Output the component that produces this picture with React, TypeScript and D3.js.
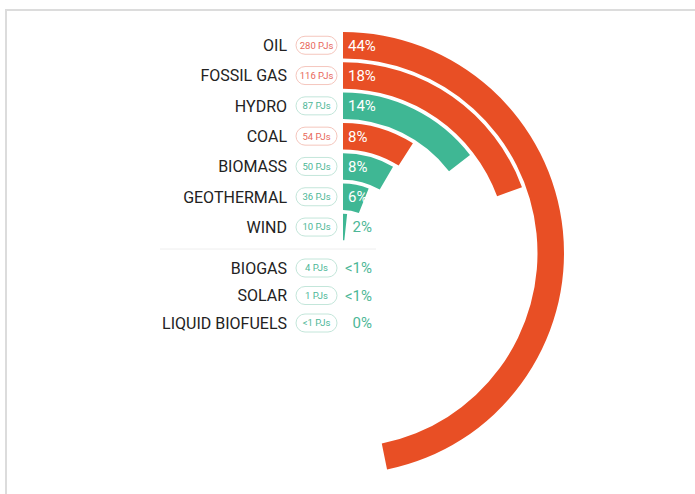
import React from "react";
import * as d3 from "d3";

const categories = ["OIL", "FOSSIL GAS", "HYDRO", "COAL", "BIOMASS", "GEOTHERMAL", "WIND"];
const values = [280, 116, 87, 54, 50, 36, 10];
const valueLabels = ["280 PJs", "116 PJs", "87 PJs", "54 PJs", "50 PJs", "36 PJs", "10 PJs"];
const percentLabels = ["44%", "18%", "14%", "8%", "8%", "6%", "2%"];
const fossil = [true, true, false, true, false, false, false];

const minorCategories = ["BIOGAS", "SOLAR", "LIQUID BIOFUELS"];
const minorValueLabels = ["4 PJs", "1 PJs", "<1 PJs"];
const minorPercentLabels = ["<1%", "<1%", "0%"];

const RED = "#e84f25";
const GREEN = "#3fb794";
const RED_TEXT = "#e8675a";
const GREEN_TEXT = "#4db797";
const RED_BORDER = "#f5c6bd";
const GREEN_BORDER = "#c3e6da";

export default function App() {
  const W = 695, H = 494;
  const cx = 343, cy = 253;
  const outer0 = 221, band = 26.5, pitch = 30.3;
  const angle = d3.scaleLinear().domain([0, 280]).range([0, (168.5 * Math.PI) / 180]);
  const arc = d3.arc<any>();
  const font = "Roboto, 'Open Sans', sans-serif";
  const labelX = 287;
  const pillX = 296, pillW = 41, pillH = 18;

  const rowY = (i: number) => cy - (outer0 - pitch * i - band / 2);
  const minorY = [268, 295.5, 323];

  return (
    <svg width={W} height={H} style={{ position: "fixed", left: 0, top: 0, background: "#fff" }}>
      <rect x={6} y={10} width={W + 10} height={H + 10} fill="none" stroke="#dcdcdc" strokeWidth={2} />
      <g transform={`translate(${cx},${cy})`}>
        {values.map((v, i) => {
          const outer = outer0 - pitch * i;
          const d = arc({ innerRadius: outer - band, outerRadius: outer, startAngle: 0, endAngle: angle(v) }) as string;
          return <path key={i} d={d} fill={fossil[i] ? RED : GREEN} />;
        })}
      </g>
      {categories.map((c, i) => {
        const y = rowY(i);
        const inside = i < 6;
        return (
          <g key={c}>
            <text x={labelX} y={y} dy="0.36em" textAnchor="end" fontFamily={font} fontSize={16} fill="#222">{c}</text>
            <rect x={pillX} y={y - pillH / 2} width={pillW} height={pillH} rx={9} fill="#fff" stroke={fossil[i] ? RED_BORDER : GREEN_BORDER} strokeWidth={1} />
            <text x={pillX + pillW / 2} y={y} dy="0.36em" textAnchor="middle" fontFamily={font} fontSize={9.5} fill={fossil[i] ? RED_TEXT : GREEN_TEXT}>{valueLabels[i]}</text>
            <text x={inside ? 348 : 372} y={y} dy="0.36em" textAnchor={inside ? "start" : "end"} fontFamily={font} fontSize={15} fill={inside ? "#fff" : GREEN_TEXT}>{percentLabels[i]}</text>
          </g>
        );
      })}
      <line x1={160} x2={376} y1={249} y2={249} stroke="#eeeeee" strokeWidth={1} />
      {minorCategories.map((c, i) => {
        const y = minorY[i];
        return (
          <g key={c}>
            <text x={labelX} y={y} dy="0.36em" textAnchor="end" fontFamily={font} fontSize={16} fill="#222">{c}</text>
            <rect x={pillX} y={y - pillH / 2} width={pillW} height={pillH} rx={9} fill="#fff" stroke={GREEN_BORDER} strokeWidth={1} />
            <text x={pillX + pillW / 2} y={y} dy="0.36em" textAnchor="middle" fontFamily={font} fontSize={9.5} fill={GREEN_TEXT}>{minorValueLabels[i]}</text>
            <text x={372} y={y} dy="0.36em" textAnchor="end" fontFamily={font} fontSize={15} fill={GREEN_TEXT}>{minorPercentLabels[i]}</text>
          </g>
        );
      })}
    </svg>
  );
}
